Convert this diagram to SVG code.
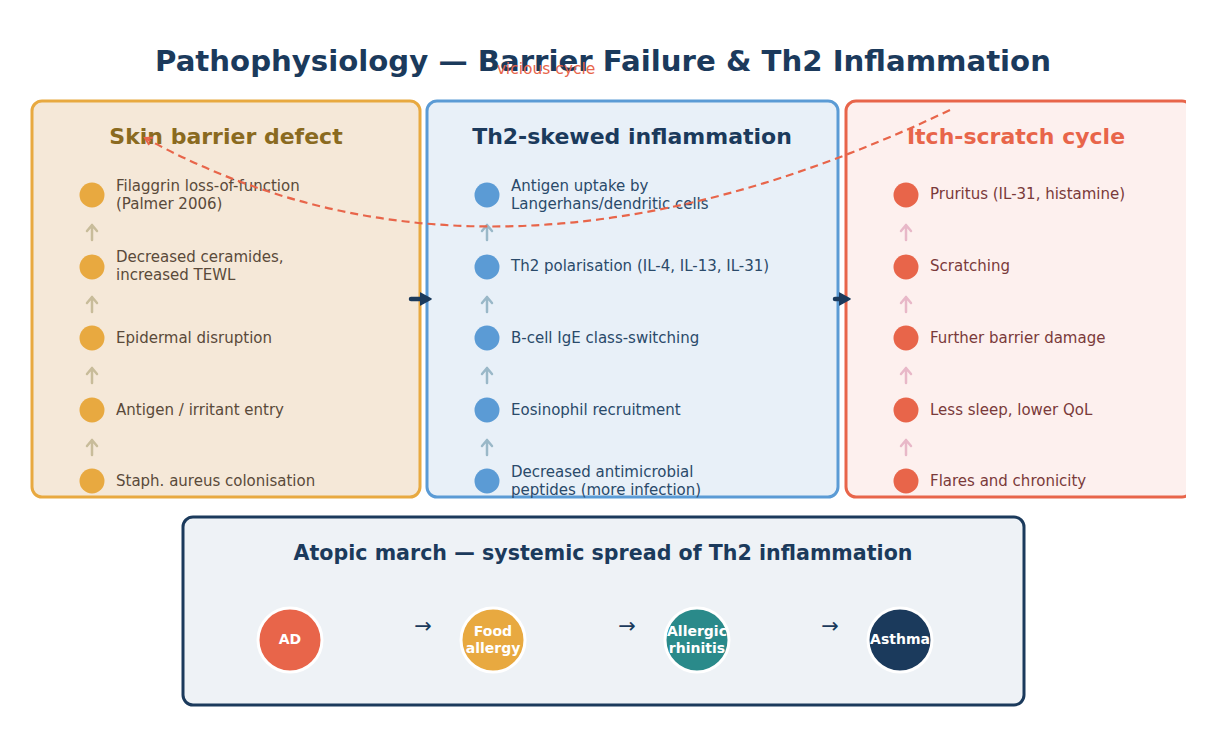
<svg xmlns="http://www.w3.org/2000/svg" width="1207" height="738" viewBox="0 0 1207 738">
<style>
text{font-family:"DejaVu Sans","Liberation Sans",sans-serif}
.ptitle{font-size:22px;font-weight:bold;text-anchor:middle}
.item{font-size:15px}
.t1{fill:#5a4a3a}.t2{fill:#2a4a6a}.t3{fill:#7a3a3a}
.up1{stroke:#c8bc9a}.up2{stroke:#9ab8c8}.up3{stroke:#e8b8c8}
.up{stroke-width:2.5;fill:none;stroke-linecap:round;stroke-linejoin:round}
.mtext{font-size:14px;font-weight:bold;fill:#fff;text-anchor:middle}
.marr{font-size:21px;fill:#1b3a5c;text-anchor:middle}
</style>
<defs>
<marker id="redhead" markerWidth="10" markerHeight="10" refX="8" refY="5" orient="auto" markerUnits="userSpaceOnUse">
<path d="M1,1 L8,5 L1,9" fill="none" stroke="#e8654a" stroke-width="2"/>
</marker>
<marker id="navyhead" markerWidth="12" markerHeight="14" refX="4" refY="7" orient="auto" markerUnits="userSpaceOnUse">
<path d="M0,1 L11,7 L0,13 Z" fill="#1b3a5c" stroke="#1b3a5c" stroke-width="1.5" stroke-linejoin="round"/>
</marker>
<clipPath id="clipR"><rect x="0" y="0" width="1186" height="738"/></clipPath>
</defs>
<rect width="1207" height="738" fill="#fff"/>
<text x="603" y="71" font-size="29.2" font-weight="bold" fill="#1b3a5c" text-anchor="middle">Pathophysiology — Barrier Failure &amp; Th2 Inflammation</text>

<g id="panel-skin">
<rect x="32" y="101" width="388" height="396" rx="10" fill="#f5e8d8" stroke="#e8a940" stroke-width="3"/>
<text class="ptitle" x="226" y="144" fill="#8a6a20">Skin barrier defect</text>
<g fill="#e8a940"><circle cx="92" cy="195" r="12.5"/><circle cx="92" cy="267" r="12.5"/><circle cx="92" cy="338" r="12.5"/><circle cx="92" cy="410" r="12.5"/><circle cx="92" cy="481" r="12.5"/></g>
<g class="up up1"><path d="M92,240 V225 M87,231 L92,225 L97,231"/><path d="M92,312 V297 M87,303 L92,297 L97,303"/><path d="M92,383 V368 M87,374 L92,368 L97,374"/><path d="M92,455 V440 M87,446 L92,440 L97,446"/></g>
<g class="item t1"><text x="116" y="191">Filaggrin loss-of-function</text><text x="116" y="209">(Palmer 2006)</text><text x="116" y="262">Decreased ceramides,</text><text x="116" y="280">increased TEWL</text><text x="116" y="343">Epidermal disruption</text><text x="116" y="415">Antigen / irritant entry</text><text x="116" y="486">Staph. aureus colonisation</text></g>
</g>

<g id="panel-th2">
<rect x="427" y="101" width="411" height="396" rx="10" fill="#e8f0f8" stroke="#5b9bd5" stroke-width="3"/>
<text class="ptitle" x="632" y="144" fill="#1b3a5c">Th2-skewed inflammation</text>
<g fill="#5b9bd5"><circle cx="487" cy="195" r="12.5"/><circle cx="487" cy="267" r="12.5"/><circle cx="487" cy="338" r="12.5"/><circle cx="487" cy="410" r="12.5"/><circle cx="487" cy="481" r="12.5"/></g>
<g class="up up2"><path d="M487,240 V225 M482,231 L487,225 L492,231"/><path d="M487,312 V297 M482,303 L487,297 L492,303"/><path d="M487,383 V368 M482,374 L487,368 L492,374"/><path d="M487,455 V440 M482,446 L487,440 L492,446"/></g>
<g class="item t2"><text x="511" y="191">Antigen uptake by</text><text x="511" y="209">Langerhans/dendritic cells</text><text x="511" y="271">Th2 polarisation (IL-4, IL-13, IL-31)</text><text x="511" y="343">B-cell IgE class-switching</text><text x="511" y="415">Eosinophil recruitment</text><text x="511" y="477">Decreased antimicrobial</text><text x="511" y="495">peptides (more infection)</text></g>
</g>

<g id="panel-itch" clip-path="url(#clipR)">
<rect x="846" y="101" width="346" height="396" rx="10" fill="#fdf0ee" stroke="#e8654a" stroke-width="3"/>
<text class="ptitle" x="1016" y="144" fill="#e8654a">Itch-scratch cycle</text>
<g fill="#e8654a"><circle cx="906" cy="195" r="12.5"/><circle cx="906" cy="267" r="12.5"/><circle cx="906" cy="338" r="12.5"/><circle cx="906" cy="410" r="12.5"/><circle cx="906" cy="481" r="12.5"/></g>
<g class="up up3"><path d="M906,240 V225 M901,231 L906,225 L911,231"/><path d="M906,312 V297 M901,303 L906,297 L911,303"/><path d="M906,383 V368 M901,374 L906,368 L911,374"/><path d="M906,455 V440 M901,446 L906,440 L911,446"/></g>
<g class="item t3"><text x="930" y="199">Pruritus (IL-31, histamine)</text><text x="930" y="271">Scratching</text><text x="930" y="343">Further barrier damage</text><text x="930" y="415">Less sleep, lower QoL</text><text x="930" y="486">Flares and chronicity</text></g>
</g>

<g id="connectors">
<line x1="411" y1="299" x2="424" y2="299" stroke="#1b3a5c" stroke-width="4.5" stroke-linecap="round" marker-end="url(#navyhead)"/>
<line x1="835" y1="299" x2="843" y2="299" stroke="#1b3a5c" stroke-width="4.5" stroke-linecap="round" marker-end="url(#navyhead)"/>
<path d="M950,110 Q492,328 145,138" fill="none" stroke="#e8654a" stroke-width="2.2" stroke-dasharray="8,5" marker-end="url(#redhead)"/>
<text x="546" y="74" font-size="15.5" fill="#e8654a" text-anchor="middle">vicious cycle</text>
</g>

<g id="atopic-march">
<rect x="183" y="517" width="841" height="188" rx="10" fill="#eef2f6" stroke="#1b3a5c" stroke-width="3"/>
<text x="603" y="560" font-size="20.6" font-weight="bold" fill="#1b3a5c" text-anchor="middle">Atopic march — systemic spread of Th2 inflammation</text>
<g stroke="#fff" stroke-width="3"><circle cx="290" cy="640" r="32" fill="#e8654a"/><circle cx="493" cy="640" r="32" fill="#e8a940"/><circle cx="697" cy="640" r="32" fill="#2a8a8a"/><circle cx="900" cy="640" r="32" fill="#1b3a5c"/></g>
<text class="mtext" x="290" y="644">AD</text>
<text class="mtext" x="493" y="636">Food</text><text class="mtext" x="493" y="653">allergy</text>
<text class="mtext" x="697" y="636">Allergic</text><text class="mtext" x="697" y="653">rhinitis</text>
<text class="mtext" x="900" y="644">Asthma</text>
<text class="marr" x="423" y="633">→</text><text class="marr" x="627" y="633">→</text><text class="marr" x="830" y="633">→</text>
</g>
</svg>
